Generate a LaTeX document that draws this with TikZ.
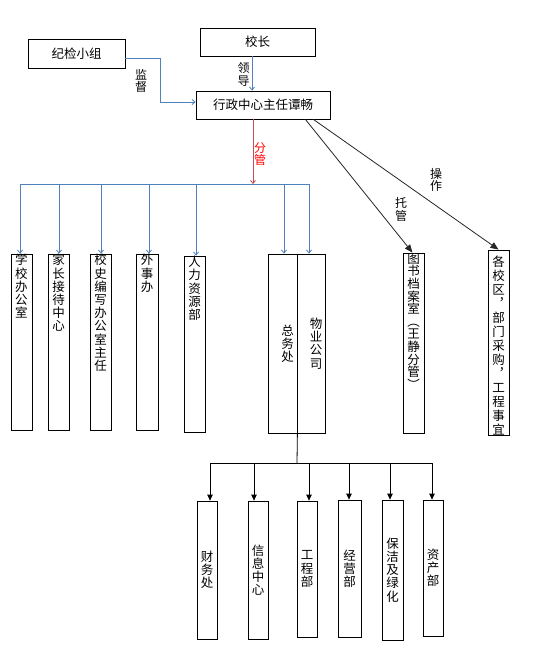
\documentclass[tikz,border=0pt]{standalone}
\usepackage{fontspec}
\setmainfont{Noto Sans CJK SC}
\usetikzlibrary{arrows.meta,calc}
\definecolor{lblue}{RGB}{79,129,189}
\definecolor{lred}{RGB}{192,80,77}
\begin{document}
\begin{tikzpicture}[x=1pt,y=-1pt,
  every node/.style={font=\fontsize{12.5}{13.2}\selectfont},
  box/.style={draw,line width=0.8pt,inner sep=0pt,align=center},
  vt/.style={inner sep=0pt,align=center},
  lbl/.style={inner sep=0pt,align=center,font=\fontsize{12}{12.5}\selectfont},
  barr/.style={draw=lblue,line width=0.8pt,-{Straight Barb[length=3pt,width=5pt]}},
  bline/.style={draw=lblue,line width=0.8pt},
  rarr/.style={draw=lred,line width=0.8pt,-{Straight Barb[length=3pt,width=5pt]}},
  karr/.style={draw=black,line width=0.8pt,-{Triangle[length=6pt,width=5.5pt]}},
  darr/.style={draw=black!85,line width=0.8pt,-{Triangle[length=8pt,width=6.5pt]}},
  kline/.style={draw=black,line width=0.8pt}]
\useasboundingbox (0,0) rectangle (537,661);
\fill[white] (0,0) rectangle (537,661);

% top boxes
\node[box,minimum width=97pt,minimum height=29pt] (jj) at (76.5,53.5) {纪检小组};
\node[box,minimum width=115pt,minimum height=28pt] (xz) at (257.5,42) {校长};
\node[box,minimum width=134pt,minimum height=28pt] (xzzx) at (263,105) {行政中心主任谭畅};

% middle boxes
\node[box,minimum width=21pt,minimum height=176pt] (b1) at (21.5,342) {};
\node[box,minimum width=21pt,minimum height=176pt] (b2) at (58.5,342) {};
\node[box,minimum width=21pt,minimum height=176pt] (b3) at (100.5,342) {};
\node[box,minimum width=22pt,minimum height=176pt] (b4) at (147,342) {};
\node[box,minimum width=21pt,minimum height=176pt] (b5) at (194.5,344) {};
\node[box,minimum width=29pt,minimum height=179pt] (zw) at (282.5,343.5) {};
\node[box,minimum width=28pt,minimum height=179pt] (wy) at (311,343.5) {};
\node[box,minimum width=21pt,minimum height=180pt] (ts) at (413.5,343) {};
\node[box,minimum width=21pt,minimum height=185pt] (gx) at (498.5,342.5) {};

\node[vt,anchor=north] (t1) at ([yshift=-0.5pt]b1.north) {学\\校\\办\\公\\室};
\node[vt,anchor=north] (t2) at ([yshift=-0.5pt]b2.north) {家\\长\\接\\待\\中\\心};
\node[vt,anchor=north] (t3) at ([yshift=-0.5pt]b3.north) {校\\史\\编\\写\\办\\公\\室\\主\\任};
\node[vt,anchor=north] (t4) at ([yshift=-0.5pt]b4.north) {外\\事\\办};
\node[vt,anchor=north] (t5) at ([yshift=-0.5pt]b5.north) {人\\力\\资\\源\\部};
\node[vt] (t6) at (287.5,344) {总\\务\\处};
\node[vt] (t7) at (316,343.5) {物\\业\\公\\司};
\node[vt,anchor=north,font=\fontsize{12.5}{12.6}\selectfont] (t8) at ([yshift=-0.5pt]ts.north) {图\\书\\档\\案\\室\\︵\\王\\静\\分\\管\\︶};
\node[vt,anchor=north,font=\fontsize{12.5}{14}\selectfont] (t9) at ([yshift=-6pt]gx.north) {各\\校\\区\\︐\\部\\门\\采\\购\\︐\\工\\程\\事\\宜};

% bottom boxes
\node[box,minimum width=20pt,minimum height=138pt] (c1) at (207,570) {财\\务\\处};
\node[box,minimum width=20pt,minimum height=138pt] (c2) at (258,570) {信\\息\\中\\心};
\node[box,minimum width=20pt,minimum height=136pt] (c3) at (307,569) {工\\程\\部};
\node[box,minimum width=23pt,minimum height=137pt] (c4) at (349.5,568.5) {经\\营\\部};
\node[box,minimum width=21pt,minimum height=140pt] (c5) at (392.5,570) {保\\洁\\及\\绿\\化};
\node[box,minimum width=20pt,minimum height=136pt] (c6) at (433,568) {资\\产\\部};

% labels
\node[lbl] (l1) at (141,81) {监\\督};
\node[lbl] (l2) at (243.5,74.5) {领\\导};
\node[lbl,text=red] (l3) at (260,154) {分\\管};
\node[lbl] (l4) at (401,209.5) {托\\管};
\node[lbl] (l5) at (436,180) {操\\作};

% connectors top
\coordinate (j1) at (160,58);
\coordinate (j2) at (160,102);
\draw[barr] (jj.east |- j1) -- (j1) -- (j2) -- (j2 -| xzzx.west);
\coordinate (k1) at (252,0);
\draw[barr] (xz.south -| k1) -- (xzzx.north -| k1);

% red and bus
\coordinate (bus) at (253,184);
\draw[rarr] (xzzx.south -| bus) -- (bus);
\coordinate (a1) at (20,184);
\coordinate (a2) at (59,184);
\coordinate (a3) at (101,184);
\coordinate (a4) at (149,184);
\coordinate (a5) at (196,184);
\coordinate (a6) at (284,184);
\coordinate (a7) at (309,184);
\draw[bline] (a1) -- (a7);
\draw[barr] (a1) -- (a1 |- b1.north);
\draw[barr] (a2) -- (a2 |- b2.north);
\draw[barr] (a3) -- (a3 |- b3.north);
\draw[barr] (a4) -- (a4 |- b4.north);
\draw[barr] (a5) -- (a5 |- b5.north);
\draw[barr] (a6) -- (a6 |- zw.north);
\draw[barr] (a7) -- (a7 |- wy.north);

% diagonal
\draw[darr] ($(xzzx.south east)+(-25,0)$) -- ([xshift=-1pt]ts.north);
\draw[darr] ($(xzzx.south east)+(-17,0)$) -- (gx.north);

% bottom tree
\coordinate (bb) at (297,463);
\draw[kline] (zw.south east) -- (bb);
\coordinate (e1) at (210,463);
\coordinate (e2) at (254,463);
\coordinate (e3) at (309,463);
\coordinate (e4) at (349,463);
\coordinate (e5) at (390,463);
\coordinate (e6) at (432,463);
\draw[kline] (e1) -- (e6);
\draw[karr] (e1) -- (e1 |- c1.north);
\draw[karr] (e2) -- (e2 |- c2.north);
\draw[karr] (e3) -- (e3 |- c3.north);
\draw[karr] (e4) -- (e4 |- c4.north);
\draw[karr] (e5) -- (e5 |- c5.north);
\draw[karr] (e6) -- (e6 |- c6.north);
\end{tikzpicture}
\end{document}
